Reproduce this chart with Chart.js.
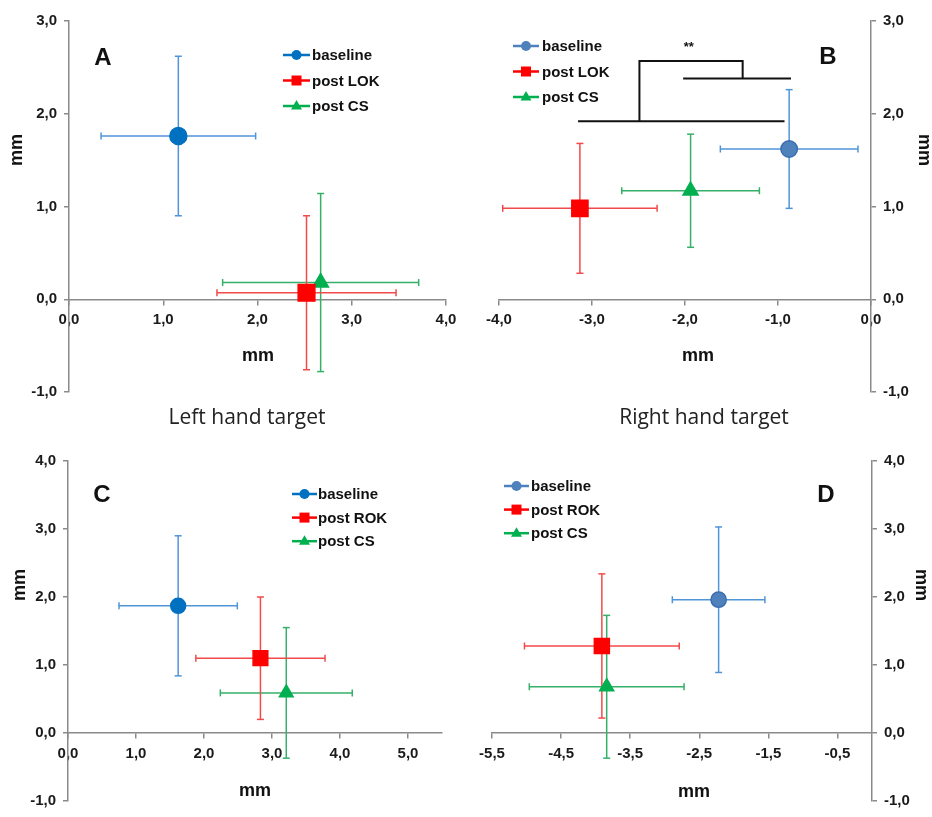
<!DOCTYPE html>
<html>
<head>
<meta charset="utf-8">
<title>Pointing error, left and right hand targets</title>
<script src="https://cdn.jsdelivr.net/npm/chart.js@4/dist/chart.umd.min.js"></script>
<style>
  html, body { margin: 0; padding: 0; background: #fff; }
  #page { position: relative; width: 932px; height: 817px; overflow: hidden; }
  .panel { position: absolute; }
  .sub { position: absolute; font: 21px "Open Sans", sans-serif; color: #222; transform: translate(-50%, -50%); white-space: nowrap; }
</style>
</head>
<body>
<div id="page">
  <div class="panel" style="left:0;top:0;width:466px;height:408px"><canvas id="chartA"></canvas></div>
  <div class="panel" style="left:466px;top:0;width:466px;height:408px"><canvas id="chartB"></canvas></div>
  <div class="panel" style="left:0;top:408px;width:466px;height:409px"><canvas id="chartC"></canvas></div>
  <div class="panel" style="left:466px;top:408px;width:466px;height:409px"><canvas id="chartD"></canvas></div>
  <div class="sub" style="left:247px;top:416px">Left hand target</div>
  <div class="sub" style="left:704px;top:416px">Right hand target</div>
</div>
<script>
// groups, in legend order
const namesTop = ['baseline', 'post LOK', 'post CS'];
const namesBottom = ['baseline', 'post ROK', 'post CS'];

// A - left hand target, after LOK (mean and SD, mm)
const aX = [1.16, 2.52, 2.67];
const aY = [1.76, 0.07, 0.18];
const aXsd = [0.82, 0.95, 1.04];
const aYsd = [0.86, 0.83, 0.96];

// B - right hand target, after LOK
const bX = [-0.88, -3.13, -1.94];
const bY = [1.62, 0.98, 1.17];
const bXsd = [0.74, 0.83, 0.74];
const bYsd = [0.64, 0.70, 0.61];

// significance bracket in B (null = break)
const bracketX = [-3.15, -0.93, null, -2.49, -2.49, -1.38, -1.38, null, -2.02, -0.86];
const bracketY = [1.92, 1.92, null, 1.92, 2.57, 2.57, 2.38, null, 2.38, 2.38];
const starsAt = [-1.96, 2.71];

// C - left hand target, after ROK
const cX = [1.62, 2.83, 3.21];
const cY = [1.87, 1.10, 0.59];
const cXsd = [0.87, 0.95, 0.97];
const cYsd = [1.03, 0.90, 0.96];

// D - right hand target, after ROK
const dX = [-2.22, -3.91, -3.84];
const dY = [1.96, 1.28, 0.68];
const dXsd = [0.67, 1.12, 1.12];
const dYsd = [1.07, 1.06, 1.05];

// axis ticks
const ticksAx = [0, 1, 2, 3, 4];
const ticksAy = [-1, 0, 1, 2, 3];
const ticksBx = [-4, -3, -2, -1, 0];
const ticksBy = [-1, 0, 1, 2, 3];
const ticksCx = [0, 1, 2, 3, 4, 5];
const ticksCy = [-1, 0, 1, 2, 3, 4];
const ticksDx = [-5.5, -4.5, -3.5, -2.5, -1.5, -0.5];
const ticksDy = [-1, 0, 1, 2, 3, 4];

Chart.defaults.font.family = '"Liberation Sans", Arial, sans-serif';
Chart.defaults.color = '#1a1a1a';

const AXIS = '#8a8a8a';
const fmt = v => Number(v).toFixed(1).replace('.', ',');

function looks(blue, blueEdge, k) {
  return [
    { mark: blue, edge: blueEdge, bar: '#4f95d8', style: 'circle', r: 8.5 * k },
    { mark: '#ff0000', edge: '#ff0000', bar: '#f24a4a', style: 'rect', r: 11.8 * k },
    { mark: '#00b050', edge: '#00b050', bar: '#35b068', style: 'triangle', r: 9 * k }
  ];
}

// little markers for the legend
function legendMark(ctx, style, x, y) {
  ctx.beginPath();
  if (style === 'circle') {
    ctx.arc(x, y, 5, 0, Math.PI * 2);
  } else if (style === 'rect') {
    ctx.rect(x - 5, y - 5, 10, 10);
  } else {
    ctx.moveTo(x, y - 6);
    ctx.lineTo(x + 5.5, y + 3.5);
    ctx.lineTo(x - 5.5, y + 3.5);
    ctx.closePath();
  }
  ctx.fill();
}

const decor = {
  id: 'decor',
  afterDraw(chart, args, o) {
    const ctx = chart.ctx;
    ctx.save();
    ctx.fillStyle = '#111';
    ctx.textBaseline = 'middle';

    // panel letter
    ctx.font = 'bold 24px "Liberation Sans", Arial, sans-serif';
    ctx.textAlign = 'center';
    ctx.fillText(o.letter, o.letterAt[0], o.letterAt[1]);

    // axis titles
    ctx.font = 'bold 18px "Liberation Sans", Arial, sans-serif';
    ctx.fillText('mm', o.xTitleAt[0], o.xTitleAt[1]);
    ctx.save();
    ctx.translate(o.yTitleAt[0], o.yTitleAt[1]);
    ctx.rotate(o.yRot);
    ctx.fillText('mm', 0, 0);
    ctx.restore();

    // legend: line with marker, then label
    const lg = o.legend;
    ctx.font = 'bold 15px "Liberation Sans", Arial, sans-serif';
    ctx.textAlign = 'left';
    o.names.forEach((name, i) => {
      const y = lg.y + i * lg.gap;
      const lk = o.looks[i];
      ctx.strokeStyle = lk.mark;
      ctx.lineWidth = 2.5;
      ctx.beginPath();
      ctx.moveTo(lg.x0, y);
      ctx.lineTo(lg.x1, y);
      ctx.stroke();
      ctx.fillStyle = lk.mark;
      legendMark(ctx, lk.style, (lg.x0 + lg.x1) / 2, y);
      ctx.fillStyle = '#111';
      ctx.fillText(name, lg.tx, y + 1);
    });

    // significance stars
    if (o.stars) {
      ctx.font = 'bold 13px "Liberation Sans", Arial, sans-serif';
      ctx.textAlign = 'center';
      ctx.fillText('**', chart.scales.x.getPixelForValue(o.stars[0]), chart.scales.y.getPixelForValue(o.stars[1]));
    }
    ctx.restore();
  }
};

function barSet(pts, color, capRot) {
  return {
    data: pts,
    order: 2,
    showLine: true,
    borderColor: color,
    borderWidth: 1.5,
    pointStyle: 'line',
    rotation: capRot,
    pointRadius: 3.5,
    pointBorderColor: color,
    pointBorderWidth: 1.5,
    pointBackgroundColor: color
  };
}

function makePanel(id, p) {
  const sets = [];
  p.x.forEach((x, i) => {
    const y = p.y[i];
    const c = p.looks[i].bar;
    sets.push(barSet([{ x: x - p.xsd[i], y: y }, { x: x + p.xsd[i], y: y }], c, 90));
    sets.push(barSet([{ x: x, y: y - p.ysd[i] }, { x: x, y: y + p.ysd[i] }], c, 0));
  });
  if (p.bracket) {
    sets.push({
      data: p.bracket[0].map((v, k) => ({ x: v, y: p.bracket[1][k] })),
      order: 1,
      showLine: true,
      spanGaps: false,
      borderColor: '#111',
      borderWidth: 2,
      borderJoinStyle: 'miter',
      pointRadius: 0
    });
  }
  // markers last in the list, drawn on top (lowest order)
  p.x.forEach((x, i) => {
    const lk = p.looks[i];
    sets.push({
      label: p.names[i],
      data: [{ x: x, y: p.y[i] }],
      order: 0,
      pointStyle: lk.style,
      pointRadius: lk.r,
      backgroundColor: lk.mark,
      borderColor: lk.edge,
      borderWidth: 1.5
    });
  });

  const grid = { drawOnChartArea: false, tickLength: 5, color: AXIS, lineWidth: 1.5 };
  const tickFont = { size: 15, weight: 'bold' };

  new Chart(document.getElementById(id), {
    type: 'scatter',
    data: { datasets: sets },
    options: {
      responsive: true,
      maintainAspectRatio: false,
      animation: false,
      events: [],
      layout: { padding: p.pad },
      scales: {
        x: {
          type: 'linear',
          min: p.xRange[0],
          max: p.xRange[1],
          position: { y: 0 },
          afterBuildTicks: s => { s.ticks = p.xTicks.map(v => ({ value: v })); },
          ticks: { callback: fmt, font: tickFont, padding: 7, autoSkip: false, maxRotation: 0 },
          grid: grid,
          border: { color: AXIS, width: 1.5 }
        },
        y: {
          type: 'linear',
          min: p.yRange[0],
          max: p.yRange[1],
          position: p.ySide,
          afterBuildTicks: s => { s.ticks = p.yTicks.map(v => ({ value: v })); },
          afterFit: s => { s.width = p.yWidth; },
          ticks: { callback: fmt, font: tickFont, padding: 7, autoSkip: false },
          grid: grid,
          border: { color: AXIS, width: 1.5 }
        }
      },
      plugins: {
        legend: { display: false },
        tooltip: { enabled: false },
        decor: p.decor
      }
    },
    plugins: [decor]
  });
}

const looksA = looks('#0070c0', '#0070c0', 1);
const looksB = looks('#4f81bd', '#3b6db0', 0.97);
const looksC = looks('#0070c0', '#0070c0', 0.88);
const looksD = looks('#4f81bd', '#3b6db0', 0.9);

makePanel('chartA', {
  x: aX, y: aY, xsd: aXsd, ysd: aYsd, names: namesTop, looks: looksA,
  xRange: [0, 4], yRange: [-1, 3], xTicks: ticksAx, yTicks: ticksAy,
  ySide: 'left', yWidth: 69, pad: { left: 0, right: 20, top: 21, bottom: 14 },
  decor: {
    letter: 'A', letterAt: [103, 58], names: namesTop, looks: looksA,
    legend: { x0: 283, x1: 310, tx: 312, y: 55, gap: 25.5 },
    xTitleAt: [258, 356], yTitleAt: [17, 150], yRot: -Math.PI / 2
  }
});

makePanel('chartB', {
  x: bX, y: bY, xsd: bXsd, ysd: bYsd, names: namesTop, looks: looksB,
  xRange: [-4, 0], yRange: [-1, 3], xTicks: ticksBx, yTicks: ticksBy,
  ySide: 'right', yWidth: 61, pad: { left: 33, right: 0, top: 21, bottom: 12 },
  bracket: [bracketX, bracketY],
  decor: {
    letter: 'B', letterAt: [362, 57], names: namesTop, looks: looksB,
    legend: { x0: 47, x1: 73, tx: 76, y: 46, gap: 25.5 },
    xTitleAt: [232, 356], yTitleAt: [458, 150], yRot: Math.PI / 2,
    stars: starsAt
  }
});

makePanel('chartC', {
  x: cX, y: cY, xsd: cXsd, ysd: cYsd, names: namesBottom, looks: looksC,
  xRange: [0, 5.5], yRange: [-1, 4], xTicks: ticksCx, yTicks: ticksCy,
  ySide: 'left', yWidth: 68, pad: { left: 0, right: 24, top: 53, bottom: 8 },
  decor: {
    letter: 'C', letterAt: [102, 87], names: namesBottom, looks: looksC,
    legend: { x0: 292, x1: 317, tx: 318, y: 86, gap: 23.6 },
    xTitleAt: [255, 383], yTitleAt: [20, 177], yRot: -Math.PI / 2
  }
});

makePanel('chartD', {
  x: dX, y: dY, xsd: dXsd, ysd: dYsd, names: namesBottom, looks: looksD,
  xRange: [-5.5, 0], yRange: [-1, 4], xTicks: ticksDx, yTicks: ticksDy,
  ySide: 'right', yWidth: 60, pad: { left: 26, right: 0, top: 53, bottom: 7 },
  decor: {
    letter: 'D', letterAt: [360, 87], names: namesBottom, looks: looksD,
    legend: { x0: 38, x1: 63, tx: 65, y: 78, gap: 23.6 },
    xTitleAt: [228, 384], yTitleAt: [455, 177], yRot: Math.PI / 2
  }
});
</script>
</body>
</html>
